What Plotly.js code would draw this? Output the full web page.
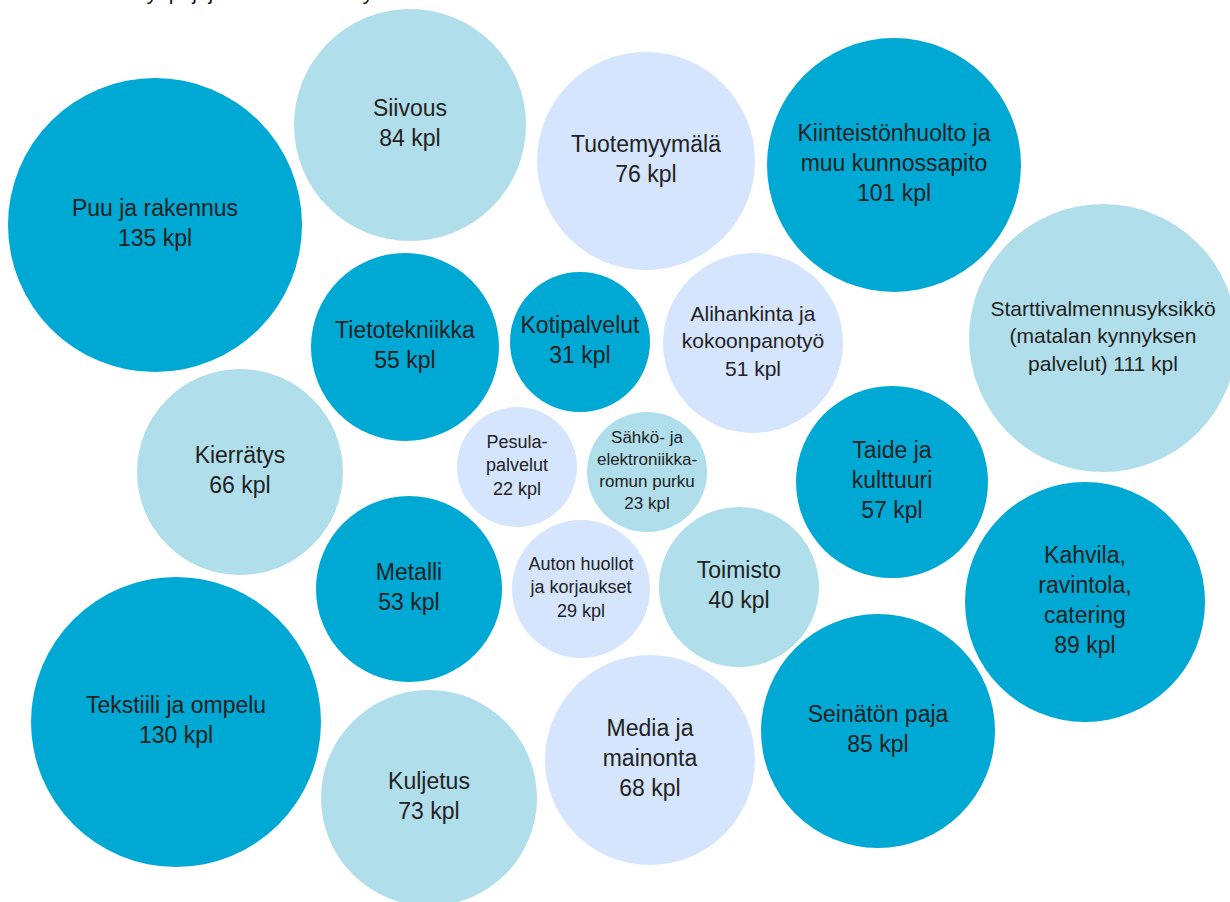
<!DOCTYPE html>
<html>
<head>
<meta charset="utf-8">
<script src="https://cdn.plot.ly/plotly-3.0.1.min.js"></script>
<style>html,body{margin:0;padding:0;background:#fff;}#chart{width:1230px;height:902px;}</style>
</head>
<body>
<div id="chart"></div>
<script>
// ---- data ----
const categories = [
  "Puu ja rakennus", "Siivous", "Tuotemyymälä", "Kiinteistönhuolto ja<br>muu kunnossapito",
  "Starttivalmennusyksikkö<br>(matalan kynnyksen<br>palvelut)", "Tietotekniikka", "Kotipalvelut",
  "Alihankinta ja<br>kokoonpanotyö", "Kierrätys", "Pesula-<br>palvelut",
  "Sähkö- ja<br>elektroniikka-<br>romun purku", "Auton huollot<br>ja korjaukset", "Toimisto",
  "Taide ja<br>kulttuuri", "Metalli", "Kahvila,<br>ravintola,<br>catering", "Tekstiili ja ompelu",
  "Kuljetus", "Media ja<br>mainonta", "Seinätön paja"
];
const counts = [135, 84, 76, 101, 111, 55, 31, 51, 66, 22, 23, 29, 40, 57, 53, 89, 130, 73, 68, 85];
const unit = "kpl";
// shade group of each bubble: 0 = dark, 1 = medium, 2 = light
const shadeGroup = [0, 1, 2, 0, 1, 0, 0, 2, 1, 2, 1, 2, 1, 0, 0, 0, 0, 1, 2, 0];
const titleText = "Työpajojen toiminta-alat yksiköittäin";

// ---- layout of the packed bubbles (hand-placed, pixel units) ----
const bubbleX = [155, 410, 646, 894, 1103, 405, 580, 753, 240, 517, 647, 581, 739, 892, 409, 1085, 176, 429, 650, 878];
const bubbleY = [225, 125, 161, 165, 338, 347, 342, 343, 472, 467, 472, 589, 587, 482, 589, 602, 722, 798, 760, 731];
const bubbleD = [294, 232, 218, 254, 268, 188, 140, 180, 206, 120, 120, 138, 160, 192, 186, 240, 290, 216, 210, 234];
const labelSize = [23, 23, 23, 23, 21, 23, 23, 21, 23, 18, 17, 18, 23, 23, 23, 23, 23, 23, 23, 23];
const palette = ["#00A8D4", "#B0DEEA", "#D5E5FD"];

const labels = categories.map((c, i) => {
  // the Starttivalmennus label keeps the count on its last line
  if (i === 4) return c + " " + counts[i] + " " + unit;
  return c + "<br>" + counts[i] + " " + unit;
});

const trace = {
  type: "scatter",
  mode: "markers+text",
  x: bubbleX,
  y: bubbleY,
  text: labels,
  textposition: "middle center",
  textfont: {family: "Liberation Sans, Arial, sans-serif", size: labelSize, color: "#222222"},
  marker: {
    size: bubbleD,
    sizemode: "diameter",
    color: shadeGroup.map(g => palette[g]),
    opacity: 1,
    line: {width: 0}
  },
  hoverinfo: "text",
  cliponaxis: false,
  showlegend: false
};

const layout = {
  width: 1230,
  height: 902,
  margin: {l: 0, r: 0, t: 0, b: 0, pad: 0},
  paper_bgcolor: "#ffffff",
  plot_bgcolor: "#ffffff",
  xaxis: {range: [0, 1230], visible: false, fixedrange: true},
  yaxis: {range: [902, 0], visible: false, fixedrange: true},
  annotations: [{
    text: titleText,
    xref: "paper", yref: "paper",
    x: 0.108, y: 1.0,
    xanchor: "left", yanchor: "bottom",
    yshift: -6,
    showarrow: false,
    font: {family: "Liberation Sans, Arial, sans-serif", size: 21, color: "#111111"}
  }]
};

Plotly.newPlot("chart", [trace], layout, {displayModeBar: false, staticPlot: true});
</script>
</body>
</html>
